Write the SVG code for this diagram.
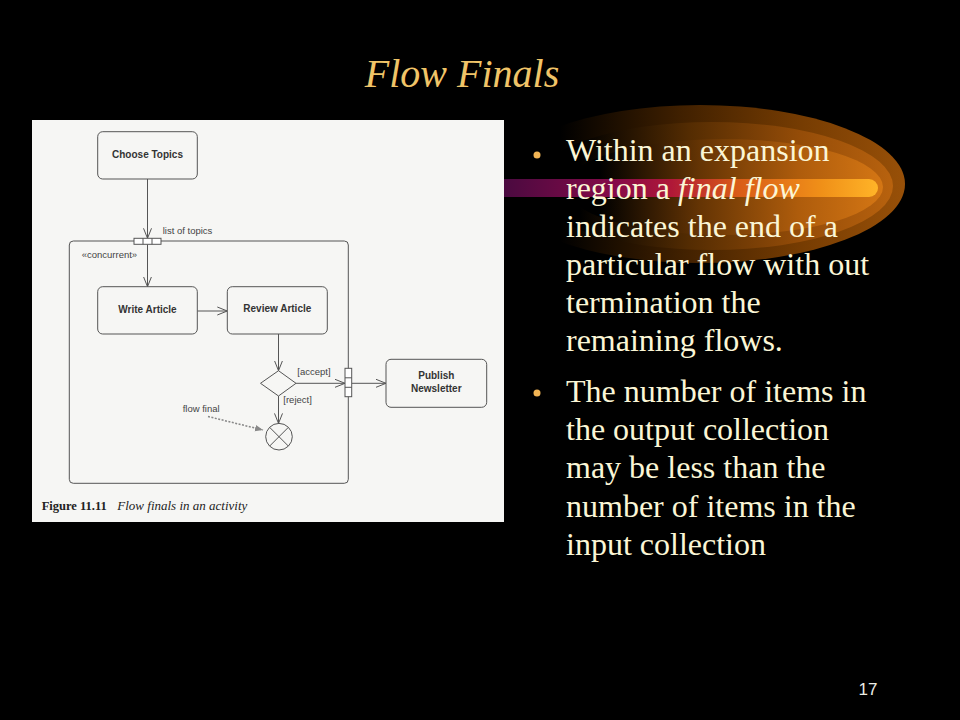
<svg xmlns="http://www.w3.org/2000/svg" width="960" height="720" viewBox="0 0 960 720">
<style>
.title{font-family:"Liberation Serif",serif;font-style:italic;font-size:40px;fill:#f0c468}
.body{font-family:"Liberation Serif",serif;font-size:32px;fill:#fbf6d6}
.bul{fill:#f2b454}
.node rect,.node polygon,.node circle{fill:#f6f6f4;stroke:#555;stroke-width:1}
.nt{font-family:"Liberation Sans",Arial,sans-serif;font-weight:bold;font-size:10px;fill:#333;text-anchor:middle}
.lbl{font-family:"Liberation Sans",Arial,sans-serif;font-size:9.5px;fill:#444}
.conn line{stroke:#555;stroke-width:1;fill:none}
.cap{font-family:"Liberation Serif",serif;font-size:13px;fill:#222}
</style>
<defs>
<marker id="open" viewBox="0 0 10 10" refX="10" refY="5" markerWidth="10" markerHeight="10" markerUnits="userSpaceOnUse" orient="auto">
<path d="M0,1 L10,5 L0,9" fill="none" stroke="#555" stroke-width="1"/>
</marker>
<marker id="solid" viewBox="0 0 10 10" refX="10" refY="5" markerWidth="8" markerHeight="8" markerUnits="userSpaceOnUse" orient="auto">
<path d="M0,1 L10,5 L0,9 z" fill="#888"/>
</marker>
<linearGradient id="g1" gradientUnits="userSpaceOnUse" x1="560" y1="0" x2="905" y2="0">
<stop offset="0" stop-color="#000"/><stop offset="0.35" stop-color="#402000"/><stop offset="0.7" stop-color="#763c02"/><stop offset="1" stop-color="#985008"/>
</linearGradient>
<linearGradient id="g2" gradientUnits="userSpaceOnUse" x1="580" y1="0" x2="893" y2="0">
<stop offset="0" stop-color="#000"/><stop offset="0.35" stop-color="#542c02"/><stop offset="0.7" stop-color="#944c08"/><stop offset="1" stop-color="#b8620e"/>
</linearGradient>
<linearGradient id="g3" gradientUnits="userSpaceOnUse" x1="600" y1="0" x2="883" y2="0">
<stop offset="0" stop-color="#000"/><stop offset="0.35" stop-color="#643404"/><stop offset="0.7" stop-color="#ae5c0c"/><stop offset="1" stop-color="#d47614"/>
</linearGradient>
<linearGradient id="bar" gradientUnits="userSpaceOnUse" x1="503" y1="0" x2="878" y2="0">
<stop offset="0" stop-color="#4a0a40"/><stop offset="0.3" stop-color="#860a48"/><stop offset="0.45" stop-color="#b01838"/><stop offset="0.62" stop-color="#d85a18"/><stop offset="0.85" stop-color="#f09018"/><stop offset="1" stop-color="#ffb428"/>
</linearGradient>
</defs>
<rect x="0" y="0" width="960" height="720" fill="#000"/>
<g id="decoration">
<ellipse cx="700" cy="184" rx="205" ry="79" fill="url(#g1)"/>
<ellipse cx="712" cy="186" rx="181" ry="64" fill="url(#g2)"/>
<ellipse cx="724" cy="187" rx="159" ry="48" fill="url(#g3)"/>
<rect x="480" y="179" width="398" height="18" rx="9" fill="url(#bar)"/>
</g>
<text class="title" x="462" y="87" text-anchor="middle">Flow Finals</text>
<rect x="32" y="120" width="472" height="402" fill="#f6f6f4"/>
<g id="connectors" class="conn">
<line x1="147.5" y1="179" x2="147.5" y2="238.3" marker-end="url(#open)"/>
<line x1="147.5" y1="244.3" x2="147.5" y2="286.7" marker-end="url(#open)"/>
<line x1="197.3" y1="311" x2="227.3" y2="311" marker-end="url(#open)"/>
<line x1="278.5" y1="334" x2="278.5" y2="370.7" marker-end="url(#open)"/>
<line x1="296" y1="383.3" x2="345" y2="383.3" marker-end="url(#open)"/>
<line x1="351.7" y1="383.3" x2="386" y2="383.3" marker-end="url(#open)"/>
<line x1="278.5" y1="396" x2="278.5" y2="423.4" marker-end="url(#open)"/>
<line x1="208" y1="416.5" x2="263" y2="430" stroke-dasharray="2,1.5" marker-end="url(#solid)" style="stroke:#888;stroke-width:1.5"/>
</g>
<g id="region" class="node">
<rect x="69.3" y="241" width="279" height="242.3" rx="4" style="fill:none"/>
</g>
<g id="pin-in" class="node">
<rect x="134" y="238.3" width="27" height="6" style="fill:#fff"/>
<line x1="143" y1="238.3" x2="143" y2="244.3" stroke="#555"/>
<line x1="152" y1="238.3" x2="152" y2="244.3" stroke="#555"/>
</g>
<g id="pin-out" class="node">
<rect x="345" y="368.3" width="6.7" height="28.4" style="fill:#fff"/>
<line x1="345" y1="377.8" x2="351.7" y2="377.8" stroke="#555"/>
<line x1="345" y1="387.3" x2="351.7" y2="387.3" stroke="#555"/>
</g>
<g id="choose-topics" class="node">
<rect x="97.7" y="131.7" width="99.6" height="47.3" rx="5"/>
<text class="nt" x="147.5" y="157.5">Choose Topics</text>
</g>
<g id="write-article" class="node">
<rect x="97.7" y="286.7" width="99.6" height="47.3" rx="5"/>
<text class="nt" x="147.5" y="312.6">Write Article</text>
</g>
<g id="review-article" class="node">
<rect x="227.3" y="286.7" width="100" height="47.3" rx="5"/>
<text class="nt" x="277.3" y="312.4">Review Article</text>
</g>
<g id="decision" class="node">
<polygon points="278.5,370.7 296,383.3 278.5,396 260.5,383.3"/>
</g>
<g id="flow-final" class="node">
<circle cx="279" cy="436.7" r="13.3"/>
<line x1="269.6" y1="427.3" x2="288.4" y2="446.1" stroke="#555"/>
<line x1="288.4" y1="427.3" x2="269.6" y2="446.1" stroke="#555"/>
</g>
<g id="publish-newsletter" class="node">
<rect x="386" y="359.3" width="100.7" height="48" rx="5"/>
<text class="nt" x="436.3" y="379.3">Publish</text>
<text class="nt" x="436.3" y="392.3">Newsletter</text>
</g>
<g id="labels">
<text class="lbl" x="162.7" y="234">list of topics</text>
<text class="lbl" x="81.7" y="257.7">«concurrent»</text>
<text class="lbl" x="297.3" y="375.3">[accept]</text>
<text class="lbl" x="283.3" y="402.7">[reject]</text>
<text class="lbl" x="182.7" y="411.7">flow final</text>
</g>
<text class="cap" x="41.7" y="509.5"><tspan font-weight="bold" font-size="12.5">Figure 11.11</tspan> <tspan x="117.3" font-style="italic">Flow finals in an activity</tspan></text>
<g id="bullets">
<circle class="bul" cx="537" cy="155" r="3.5"/>
<text class="body" x="566" y="161">Within an expansion</text>
<text class="body" x="566" y="199">region a <tspan font-style="italic">final flow</tspan></text>
<text class="body" x="566" y="237">indicates the end of a</text>
<text class="body" x="566" y="275">particular flow with out</text>
<text class="body" x="566" y="313">termination the</text>
<text class="body" x="566" y="351">remaining flows.</text>
<circle class="bul" cx="537" cy="393" r="3.5"/>
<text class="body" x="566" y="401.7">The number of items in</text>
<text class="body" x="566" y="440">the output collection</text>
<text class="body" x="566" y="478.3">may be less than the</text>
<text class="body" x="566" y="516.6">number of items in the</text>
<text class="body" x="566" y="555">input collection</text>
</g>
<text x="868" y="695" text-anchor="middle" font-family="Liberation Sans, Arial, sans-serif" font-size="17" fill="#ecece4">17</text>
</svg>
